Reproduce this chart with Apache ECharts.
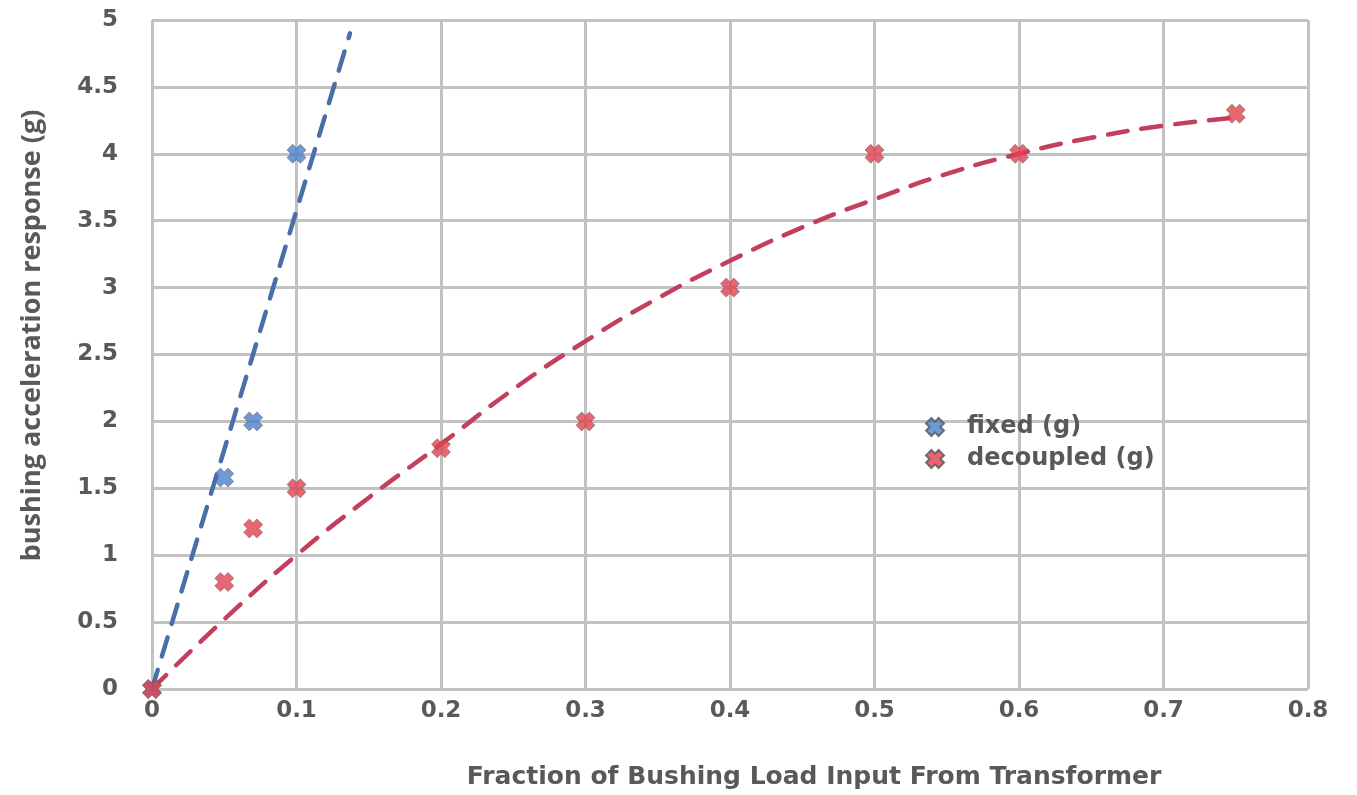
<!DOCTYPE html>
<html>
<head>
<meta charset="utf-8">
<script src="https://cdn.jsdelivr.net/npm/echarts@6/dist/echarts.min.js"></script>
<style>
  html, body { margin: 0; padding: 0; background: #fff; }
  #chart { width: 1357px; height: 795px; }
</style>
</head>
<body>
<div id="chart"></div>
<script>
// measured points
var fixedX = [0, 0.05, 0.07, 0.1];
var fixedY = [0, 1.58, 2.0, 4.0];
var decoupledX = [0, 0.05, 0.07, 0.1, 0.2, 0.3, 0.4, 0.5, 0.6, 0.75];
var decoupledY = [0, 0.8, 1.2, 1.5, 1.8, 2.0, 3.0, 4.0, 4.0, 4.3];

// trend lines
var fixedTrendX = [0, 0.137];
var fixedTrendY = [0, 4.9];
var decTrendX = [0, 0.05, 0.1, 0.15, 0.2, 0.25, 0.3, 0.35, 0.4, 0.45, 0.5, 0.55, 0.6, 0.65, 0.7, 0.75];
var decTrendY = [0, 0.52, 1.0, 1.43, 1.83, 2.24, 2.6, 2.92, 3.2, 3.45, 3.66, 3.85, 4.0, 4.12, 4.21, 4.27];

var seriesNames = ['fixed (g)', 'decoupled (g)'];

function pairs(xs, ys) {
  var out = [];
  for (var i = 0; i < xs.length; i++) {
    out.push([xs[i], ys[i]]);
  }
  return out;
}

// fat "x" marker like the spreadsheet one
var xMark = 'path://M3,0 L5,2 L7,0 L10,3 L8,5 L10,7 L7,10 L5,8 L3,10 L0,7 L2,5 L0,3 Z';
var fontFam = '"DejaVu Sans", "Noto Sans", sans-serif';
var txt = '#595959';

var myChart = echarts.init(document.getElementById('chart'));
myChart.setOption({
  animation: false,
  backgroundColor: '#fff',
  grid: { left: 152, right: 49, top: 20, bottom: 104 },
  legend: {
    data: seriesNames,
    orient: 'vertical',
    left: 920,
    top: 410,
    itemWidth: 18,
    itemHeight: 18,
    itemGap: 8,
    icon: xMark,
    textStyle: { fontFamily: fontFam, fontWeight: 'bold', fontSize: 24, color: txt, padding: [0, 0, 0, 18] }
  },
  xAxis: {
    type: 'value',
    min: 0, max: 0.8, interval: 0.1,
    name: 'Fraction of Bushing Load Input From Transformer',
    nameLocation: 'middle',
    nameGap: 76,
    nameTextStyle: { fontFamily: fontFam, fontWeight: 'bold', fontSize: 25, color: txt, padding: [0, 0, 0, 168] },
    axisLine: { show: false },
    axisTick: { show: false },
    axisLabel: { fontFamily: fontFam, fontWeight: 'bold', fontSize: 23, color: txt, margin: 11 },
    splitLine: { lineStyle: { color: '#c2c2c2', width: 3 } }
  },
  yAxis: {
    type: 'value',
    min: 0, max: 5, interval: 0.5,
    name: 'bushing acceleration response (g)',
    nameLocation: 'middle',
    nameGap: 106,
    nameTextStyle: { fontFamily: '"Open Sans", sans-serif', fontWeight: 'bold', fontSize: 27, color: txt, padding: [0, 0, 0, 38] },
    axisLine: { show: false },
    axisTick: { show: false },
    axisLabel: { fontFamily: fontFam, fontWeight: 'bold', fontSize: 23, color: txt, margin: 34 },
    splitLine: { lineStyle: { color: '#c2c2c2', width: 3 } }
  },
  series: [
    {
      name: 'fixedTrend',
      type: 'line',
      data: pairs(fixedTrendX, fixedTrendY),
      showSymbol: false,
      lineStyle: { color: '#4a6fa8', width: 4.5, type: [20, 14], cap: 'round' },
      z: 2
    },
    {
      name: 'decTrend',
      type: 'line',
      smooth: true,
      data: pairs(decTrendX, decTrendY),
      showSymbol: false,
      lineStyle: { color: '#c2405c', width: 4.5, type: [20, 14], cap: 'round' },
      z: 2
    },
    {
      name: seriesNames[0],
      type: 'scatter',
      data: pairs(fixedX, fixedY),
      symbol: xMark,
      symbolSize: 19,
      itemStyle: { color: '#4a80c8', borderColor: '#555', borderWidth: 0.6 },
      z: 3
    },
    {
      name: seriesNames[1],
      type: 'scatter',
      data: pairs(decoupledX, decoupledY),
      symbol: xMark,
      symbolSize: 19,
      itemStyle: { color: '#e0404e', borderColor: '#555', borderWidth: 0.6 },
      z: 4
    }
  ]
});
</script>
</body>
</html>
